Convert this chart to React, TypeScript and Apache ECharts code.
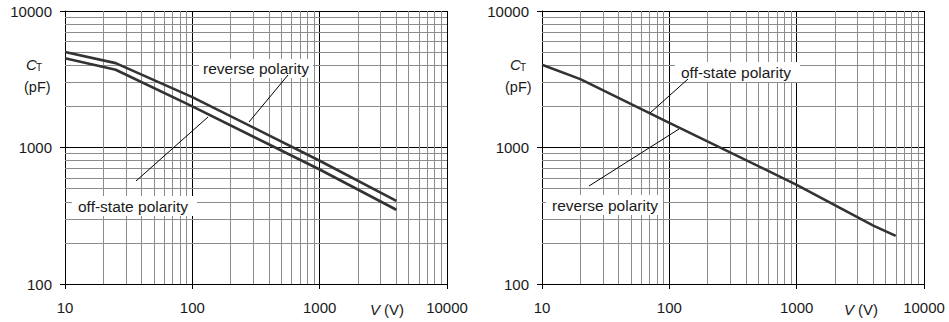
import React, { useEffect, useRef } from "react";
import * as echarts from "echarts";

// ---- data ----
const leftVoltage = [10, 25, 100, 1000, 4000];
const leftReverse = [5000, 4150, 2340, 800, 407];
const leftOffState = [4500, 3710, 2000, 690, 350];

const rightVoltage = [10, 20, 100, 1000, 4000, 6000];
const rightCapacitance = [4035, 3170, 1517, 533, 268, 225];

const xDecades = [10, 100, 1000];
const yDecades = [100, 1000];
const minorMultipliers = [2, 3, 4, 5, 6, 7, 8, 9];

const FONT = "'Liberation Sans', Arial, sans-serif";
const TXT = "#1a1a1a";
const CURVE = "#333333";
const MINOR = "#8c8c8c";

const minorX = xDecades.flatMap((d) => minorMultipliers.map((m) => d * m));
const minorY = yDecades.flatMap((d) => minorMultipliers.map((m) => d * m));

const grids = [
  { left: 65, top: 11, width: 382, height: 273 },
  { left: 542, top: 11, width: 382, height: 273 },
];

function makeAxes() {
  const xAxis = grids.map((_, i) => ({
    type: "log",
    logBase: 10,
    min: 10,
    max: 10000,
    gridIndex: i,
    axisLine: { show: true, onZero: false, lineStyle: { color: "#000", width: 1 } },
    axisTick: { show: true, length: 5, inside: false, lineStyle: { color: "#000" } },
    axisLabel: {
      margin: 16,
      color: TXT,
      fontSize: 15,
      fontFamily: FONT,
      formatter: (v: number) => String(Math.round(v)),
    },
    splitLine: { show: true, lineStyle: { color: "#000", width: 1 } },
    minorTick: { show: false },
    minorSplitLine: { show: false },
  }));
  const yAxis = grids.map((_, i) => ({
    type: "log",
    logBase: 10,
    min: 100,
    max: 10000,
    gridIndex: i,
    axisLine: { show: true, onZero: false, lineStyle: { color: "#000", width: 1 } },
    axisTick: { show: true, length: 5, inside: false, lineStyle: { color: "#000" } },
    axisLabel: {
      margin: 13,
      color: TXT,
      fontSize: 15,
      fontFamily: FONT,
      formatter: (v: number) => String(Math.round(v)),
    },
    splitLine: { show: true, lineStyle: { color: "#000", width: 1 } },
  }));
  return { xAxis, yAxis };
}

function gridHelper(i: number) {
  return {
    type: "line",
    xAxisIndex: i,
    yAxisIndex: i,
    data: [[10, 100]],
    showSymbol: false,
    lineStyle: { opacity: 0 },
    silent: true,
    z: 1,
    markLine: {
      silent: true,
      symbol: "none",
      label: { show: false },
      lineStyle: { color: MINOR, width: 1, type: "solid" },
      emphasis: { disabled: true },
      data: [
        ...minorX.map((v) => ({ xAxis: v })),
        ...minorY.map((v) => ({ yAxis: v })),
      ],
    },
  };
}

function curve(i: number, xs: number[], ys: number[], name: string) {
  return {
    type: "line",
    name,
    xAxisIndex: i,
    yAxisIndex: i,
    data: xs.map((x, k) => [x, ys[k]]),
    showSymbol: false,
    symbol: "none",
    lineStyle: { color: CURVE, width: 2.6 },
    z: 5,
  };
}

function label(x: number, y: number, w: number, h: number, text: string, tx: number) {
  return [
    {
      type: "rect",
      shape: { x, y, width: w, height: h },
      style: { fill: "#fff" },
      z: 10,
    },
    {
      type: "text",
      x: tx,
      y: y + h / 2,
      style: {
        text,
        fill: TXT,
        fontSize: 15.5,
        fontFamily: FONT,
        verticalAlign: "middle",
      },
      z: 11,
    },
  ];
}

function leader(x1: number, y1: number, x2: number, y2: number) {
  return {
    type: "line",
    shape: { x1, y1, x2, y2 },
    style: { stroke: "#000", lineWidth: 1 },
    z: 11,
  };
}

function axisTitles(cx: number, cy: number, pfx: number, vx: number) {
  return [
    {
      type: "text",
      x: cx,
      y: cy,
      style: { text: "C", fill: TXT, fontSize: 15, fontStyle: "italic", fontFamily: FONT, verticalAlign: "middle" },
    },
    {
      type: "text",
      x: cx + 10,
      y: cy + 3,
      style: { text: "T", fill: TXT, fontSize: 10, fontFamily: FONT, verticalAlign: "middle" },
    },
    {
      type: "text",
      x: pfx,
      y: cy + 23,
      style: { text: "(pF)", fill: TXT, fontSize: 14.5, fontFamily: FONT, verticalAlign: "middle" },
    },
    {
      type: "text",
      x: vx,
      y: 309,
      style: {
        text: "{i|V} (V)",
        fill: TXT,
        fontSize: 15,
        fontFamily: FONT,
        align: "center",
        verticalAlign: "middle",
        rich: { i: { fontStyle: "italic", fontSize: 15, fontFamily: FONT, fill: TXT } },
      },
    },
  ];
}

export default function App() {
  const ref = useRef<HTMLDivElement>(null);
  useEffect(() => {
    if (!ref.current) return;
    const chart = echarts.init(ref.current, null, { renderer: "svg" });
    const { xAxis, yAxis } = makeAxes();
    chart.setOption({
      animation: false,
      backgroundColor: "#fff",
      textStyle: { fontFamily: FONT },
      grid: grids.map((g) => ({ ...g, containLabel: false })),
      xAxis,
      yAxis,
      series: [
        gridHelper(0),
        gridHelper(1),
        curve(0, leftVoltage, leftReverse, "reverse polarity"),
        curve(0, leftVoltage, leftOffState, "off-state polarity"),
        curve(1, rightVoltage, rightCapacitance, "off-state / reverse polarity"),
      ],
      graphic: [
        ...label(199, 59, 114, 19, "reverse polarity", 203),
        leader(288, 75, 249, 122),
        ...label(72, 196, 125, 20, "off-state polarity", 78),
        leader(136, 181, 208, 117),
        ...label(675, 62, 125, 20, "off-state polarity", 681),
        leader(688, 79, 650, 113),
        ...label(546, 195, 117, 20, "reverse polarity", 552),
        leader(589, 186, 679, 129),
        ...axisTitles(26, 64, 24, 387),
        ...axisTitles(510, 64, 505, 861),
      ],
    });
    return () => chart.dispose();
  }, []);
  return (
    <div
      ref={ref}
      style={{ position: "fixed", left: 0, top: 0, width: 949, height: 322, background: "#fff" }}
    />
  );
}
